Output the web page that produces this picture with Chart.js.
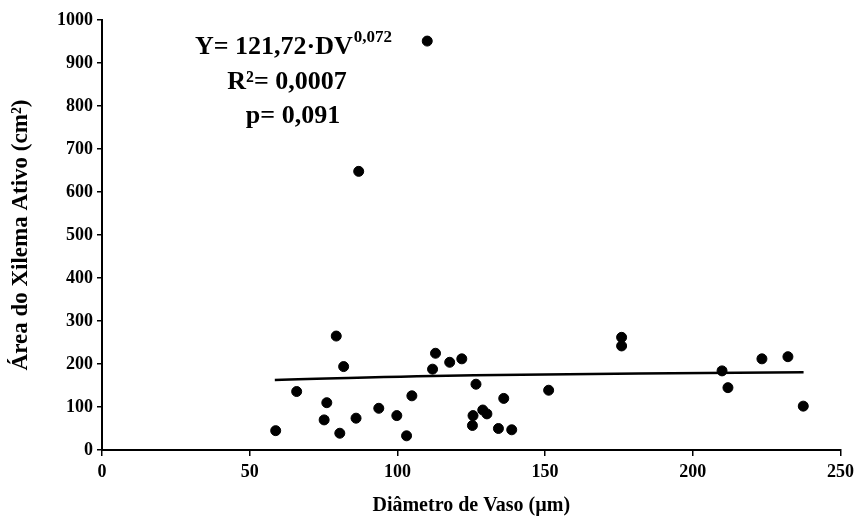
<!DOCTYPE html>
<html lang="pt">
<head>
  <meta charset="UTF-8">
  <title>Área do Xilema Ativo x Diâmetro de Vaso</title>
  <script src="https://cdn.jsdelivr.net/npm/chart.js"></script>
  <style>
    html, body { margin: 0; padding: 0; background: #fff; }
    #wrap { position: relative; width: 860px; height: 524px; }
  </style>
</head>
<body>
  <div id="wrap">
    <canvas id="chart"></canvas>
  </div>

  <script>
    // Observed points (diâmetro de vaso µm, área do xilema ativo cm²)
    const vesselDiameter = [
      58.8, 65.9, 75.2, 76.1, 79.3, 80.5, 81.8, 86.0, 86.9, 93.7,
      99.8, 103.1, 104.9, 110.1, 111.9, 112.9, 117.7, 121.8, 125.4, 125.6,
      126.6, 128.9, 130.3, 134.2, 136.0, 138.7, 151.2, 175.9, 175.9, 209.9,
      211.9, 223.4, 232.2, 237.4
    ];
    const xylemArea = [
      45, 136, 70, 110, 265, 39, 194, 74, 648, 97,
      80, 33, 126, 951, 188, 225, 204, 212, 57, 80,
      153, 93, 84, 50, 120, 47, 139, 262, 242, 184,
      145, 212, 217, 102
    ];

    // Fitted power curve
    const fitX = [58.5, 126, 237.5];
    const fitY = [163, 174, 181];

    const xTicks = [0, 50, 100, 150, 200, 250];
    const yTicks = [0, 100, 200, 300, 400, 500, 600, 700, 800, 900, 1000];

    const serif = '"Liberation Serif", "Times New Roman", serif';

    const points = vesselDiameter.map((x, i) => ({ x: x, y: xylemArea[i] }));
    const fitLine = fitX.map((x, i) => ({ x: x, y: fitY[i] }));

    // equation / stats text in upper left
    const equationPlugin = {
      id: 'equation',
      afterDraw: (chart) => {
        const ctx = chart.ctx;
        const cx = 293;
        ctx.save();
        ctx.fillStyle = '#000';
        ctx.textBaseline = 'alphabetic';
        ctx.textAlign = 'left';

        const main = 'Y= 121,72·DV';
        const sup = '0,072';
        ctx.font = 'bold 26px ' + serif;
        const wMain = ctx.measureText(main).width;
        ctx.font = 'bold 17px ' + serif;
        const wSup = ctx.measureText(sup).width;
        let x0 = cx - (wMain + wSup) / 2;
        ctx.font = 'bold 26px ' + serif;
        ctx.fillText(main, x0, 54);
        ctx.font = 'bold 17px ' + serif;
        ctx.fillText(sup, x0 + wMain + 1, 42);

        ctx.textAlign = 'center';
        ctx.font = 'bold 26px ' + serif;
        ctx.fillText('R²= 0,0007', cx - 6, 89);
        ctx.fillText('p= 0,091', cx, 123);
        ctx.restore();
      }
    };

    const ctx = document.getElementById('chart').getContext('2d');
    new Chart(ctx, {
      type: 'scatter',
      data: {
        datasets: [
          {
            label: 'Observado',
            data: points,
            backgroundColor: '#000',
            borderColor: '#000',
            pointRadius: 5,
            pointHoverRadius: 5
          },
          {
            label: 'Ajuste',
            type: 'line',
            data: fitLine,
            borderColor: '#000',
            borderWidth: 2.5,
            pointRadius: 0,
            fill: false,
            tension: 0.4
          }
        ]
      },
      options: {
        responsive: true,
        maintainAspectRatio: false,
        animation: false,
        layout: { padding: { top: 20, right: 17, left: 0, bottom: 6 } },
        plugins: {
          legend: { display: false },
          tooltip: { enabled: false }
        },
        scales: {
          x: {
            type: 'linear',
            min: 0,
            max: 250,
            afterBuildTicks: (scale) => { scale.ticks = xTicks.map(v => ({ value: v })); },
            afterFit: (scale) => { scale.height = 68; },
            border: { color: '#000', width: 2 },
            grid: { drawOnChartArea: false, drawTicks: true, tickLength: 6, color: '#000', lineWidth: 1.5 },
            ticks: {
              color: '#000',
              padding: 6,
              maxRotation: 0,
              callback: (v) => String(v),
              font: { family: serif, size: 18, weight: 'bold' }
            },
            title: {
              display: true,
              text: 'Diâmetro de Vaso (µm)',
              color: '#000',
              padding: { top: 0, bottom: 0 },
              font: { family: serif, size: 20, weight: 'bold' }
            }
          },
          y: {
            type: 'linear',
            min: 0,
            max: 1000,
            afterBuildTicks: (scale) => { scale.ticks = yTicks.map(v => ({ value: v })); },
            afterFit: (scale) => { scale.width = 102; },
            border: { color: '#000', width: 2 },
            grid: { drawOnChartArea: false, drawTicks: true, tickLength: 5, color: '#000', lineWidth: 1.5 },
            ticks: {
              color: '#000',
              padding: 4,
              callback: (v) => String(v),
              font: { family: serif, size: 18, weight: 'bold' }
            },
            title: {
              display: true,
              text: 'Área do Xilema Ativo (cm²)',
              color: '#000',
              padding: { top: 7, bottom: 4 },
              font: { family: serif, size: 23, weight: 'bold' }
            }
          }
        }
      },
      plugins: [equationPlugin]
    });
  </script>
</body>
</html>
